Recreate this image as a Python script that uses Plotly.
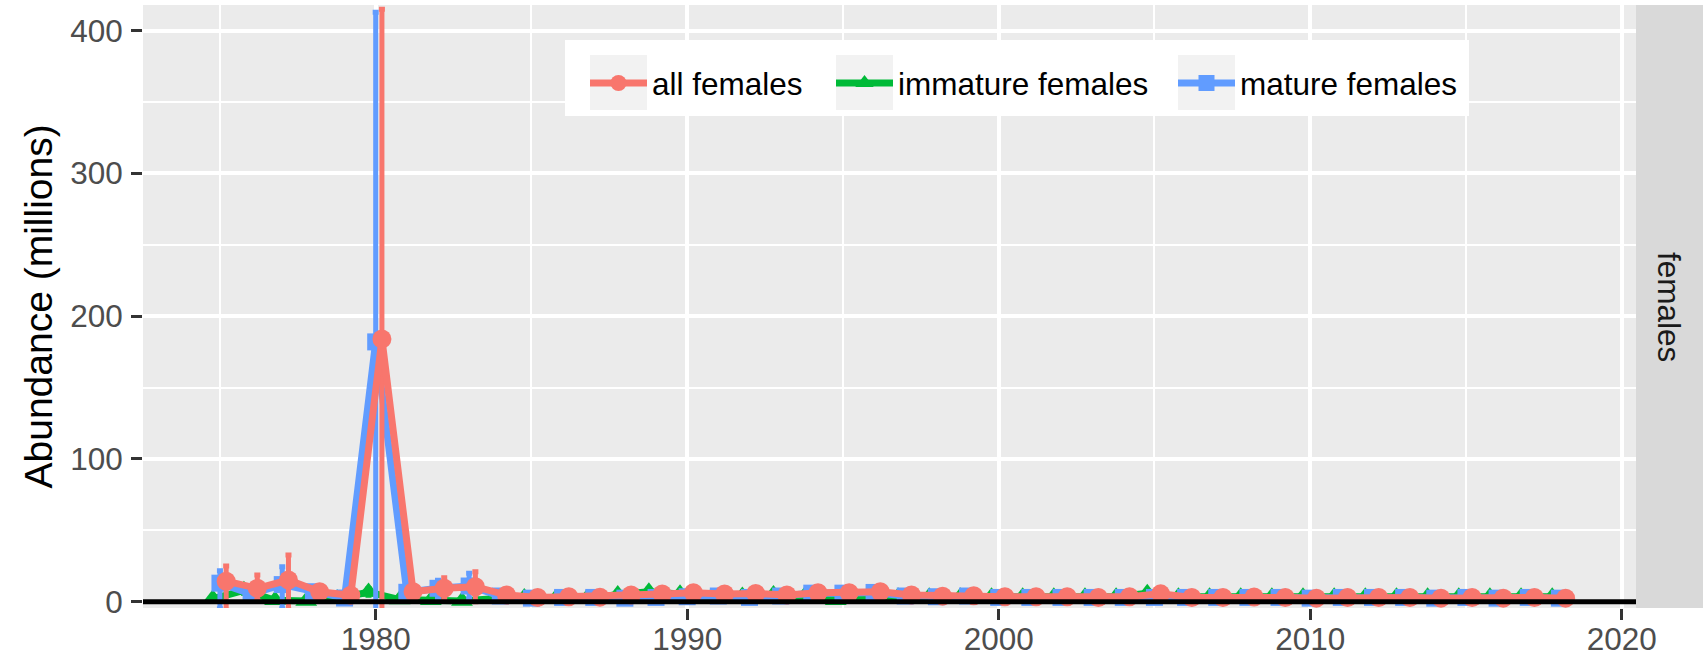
import plotly.graph_objects as go

# Survey years
years = list(range(1975, 2019))

# Abundance estimates (millions) and confidence limits
all_females = [14.4, 9.4, 15.2, 7.0, 4.5, 184.0, 7.0, 9.4, 10.5, 4.7,
               3.0, 3.5, 3.2, 4.7, 5.4, 6.3, 5.4, 5.8, 4.7, 6.3,
               6.3, 7.0, 4.7, 3.9, 4.2, 3.5, 3.5, 3.5, 3.0, 3.5,
               5.5, 3.0, 3.0, 3.3, 3.0, 2.5, 3.0, 3.0, 3.0, 2.5,
               3.0, 2.5, 3.0, 2.5]
all_upper = [25.0, 18.7, 32.7, 9.0, 6.0, 415.0, 9.0, 16.8, 21.0, 6.0,
             4.5, 5.0, 4.5, 6.0, 7.0, 8.0, 7.0, 7.5, 6.0, 8.0,
             8.0, 9.0, 6.0, 5.0, 5.5, 4.5, 4.5, 4.5, 4.0, 4.5,
             7.0, 4.0, 4.0, 4.5, 4.0, 3.5, 4.0, 4.0, 4.0, 3.5,
             4.0, 3.5, 4.0, 3.5]
all_lower = [-6.0, 1.0, -6.0, 5.0, 3.0, -47.0, 5.0, 2.0, 0.0, 3.5,
             2.0, 2.5, 2.0, 3.5, 4.0, 4.5, 4.0, 4.0, 3.5, 4.5,
             4.5, 5.0, 3.5, 3.0, 3.0, 2.5, 2.5, 2.5, 2.0, 2.5,
             4.0, 2.0, 2.0, 2.5, 2.0, 1.5, 2.0, 2.0, 2.0, 1.5,
             2.0, 1.5, 2.0, 1.5]

immature = [2.0, 8.0, 1.0, 0.5, 2.0, 6.8, 1.5, 1.0, 0.5, 2.0,
            3.0, 2.0, 2.0, 5.0, 7.0, 5.5, 3.0, 4.0, 5.0, 4.0,
            1.0, 2.0, 3.5, 3.5, 3.5, 3.5, 3.5, 3.5, 3.5, 3.5,
            6.0, 3.5, 3.5, 3.5, 3.5, 3.5, 3.5, 3.5, 3.5, 3.5,
            3.5, 3.5, 3.5, 3.5]
imm_upper = [3.0, 10.0, 2.0, 1.0, 3.0, 9.0, 2.5, 2.0, 1.0, 3.0,
             4.0, 3.0, 3.0, 6.5, 9.0, 7.0, 4.0, 5.0, 6.5, 5.0,
             2.0, 3.0, 4.5, 4.5, 4.5, 4.5, 4.5, 4.5, 4.5, 4.5,
             7.5, 4.5, 4.5, 4.5, 4.5, 4.5, 4.5, 4.5, 4.5, 4.5,
             4.5, 4.5, 4.5, 4.5]
imm_lower = [1.0, 6.0, 0.0, 0.0, 1.0, 4.5, 0.5, 0.0, 0.0, 1.0,
             2.0, 1.0, 1.0, 3.5, 5.0, 4.0, 2.0, 3.0, 3.5, 3.0,
             0.0, 1.0, 2.5, 2.5, 2.5, 2.5, 2.5, 2.5, 2.5, 2.5,
             4.5, 2.5, 2.5, 2.5, 2.5, 2.5, 2.5, 2.5, 2.5, 2.5,
             2.5, 2.5, 2.5, 2.5]

mature = [13.0, 5.4, 12.0, 7.0, 2.6, 182.0, 6.6, 9.4, 11.0, 4.0,
          2.5, 3.0, 3.0, 2.5, 3.0, 3.5, 4.0, 3.0, 4.0, 6.0,
          6.0, 6.5, 4.0, 3.5, 4.0, 3.0, 3.0, 3.0, 3.0, 3.0,
          3.0, 3.0, 3.0, 3.0, 3.0, 2.5, 3.0, 3.0, 3.0, 2.5,
          3.0, 2.5, 3.0, 2.5]
mat_upper = [21.7, 7.5, 24.5, 8.5, 3.5, 413.0, 8.0, 15.0, 20.0, 5.0,
             3.5, 4.0, 4.0, 3.5, 4.0, 4.5, 5.0, 4.0, 5.0, 7.5,
             7.5, 8.0, 5.0, 4.5, 5.0, 4.0, 4.0, 4.0, 4.0, 4.0,
             4.0, 4.0, 4.0, 4.0, 4.0, 3.5, 4.0, 4.0, 4.0, 3.5,
             4.0, 3.5, 4.0, 3.5]
mat_lower = [-5.0, 3.0, -5.0, 5.5, 1.5, -49.0, 5.0, 3.0, 2.0, 3.0,
             1.5, 2.0, 2.0, 1.5, 2.0, 2.5, 3.0, 2.0, 3.0, 4.5,
             4.5, 5.0, 3.0, 2.5, 3.0, 2.0, 2.0, 2.0, 2.0, 2.0,
             2.0, 2.0, 2.0, 2.0, 2.0, 1.5, 2.0, 2.0, 2.0, 1.5,
             2.0, 1.5, 2.0, 1.5]

x_ticks = [1980, 1990, 2000, 2010, 2020]
y_ticks = [0, 100, 200, 300, 400]

RED, GREEN, BLUE = "#F8766D", "#00BA38", "#619CFF"
FONT = "Liberation Sans"

W, H = 1703, 662
L, R, T, B = 143, 67, 5, 54
pw, ph = W - L - R, H - T - B


def px_x(p):
    return (p - L) / pw


def px_y(p):
    return (H - B - p) / ph


KEY_W = 57
LEG_MID = 83          # vertical centre of the legend entries (px from top)
BOX_TOP, BOX_BOTTOM = 40, 116
# left edge (px) of each legend entry
legend_left = {"legend": 585, "legend2": 831, "legend3": 1173}

# (name, values, upper, lower, colour, symbol, marker size, dodge offset, legend id)
series = [
    ("immature females", immature, imm_upper, imm_lower, GREEN, "triangle-up", 19, -0.23, "legend2"),
    ("mature females", mature, mat_upper, mat_lower, BLUE, "square", 17, 0.0, "legend3"),
    ("all females", all_females, all_upper, all_lower, RED, "circle", 19, 0.2, "legend"),
]

fig = go.Figure()
for name, vals, up, lo, col, sym, msize, off, leg in series:
    fig.add_trace(go.Scatter(
        x=[yr + off for yr in years],
        y=vals,
        name=name,
        mode="lines+markers",
        line=dict(color=col, width=7),
        marker=dict(color=col, symbol=sym, size=msize),
        error_y=dict(
            type="data", symmetric=False,
            array=[u - v for u, v in zip(up, vals)],
            arrayminus=[v - l for v, l in zip(vals, lo)],
            color=col, thickness=5, width=3,
        ),
        legend=leg,
        cliponaxis=True,
    ))

shapes = [
    # zero reference line
    dict(type="line", xref="paper", yref="y", x0=0, x1=1, y0=0, y1=0,
         line=dict(color="black", width=5), layer="above"),
    # facet strip
    dict(type="rect", xref="paper", yref="paper", x0=1, x1=1 + R / pw, y0=0, y1=1,
         fillcolor="#D9D9D9", line=dict(width=0), layer="below"),
    # legend box
    dict(type="rect", xref="paper", yref="paper",
         x0=px_x(565), x1=px_x(1469), y0=px_y(BOX_BOTTOM), y1=px_y(BOX_TOP),
         fillcolor="white", line=dict(width=0), layer="above"),
]
# legend key backgrounds
for leg, left in legend_left.items():
    shapes.append(dict(type="rect", xref="paper", yref="paper",
                       x0=px_x(left + 5), x1=px_x(left + 5 + KEY_W),
                       y0=px_y(110), y1=px_y(55),
                       fillcolor="#F2F2F2", line=dict(width=0), layer="above"))

annotations = [
    dict(text="females", xref="paper", yref="paper", x=1 + R / pw / 2, y=0.5,
         showarrow=False, textangle=90, font=dict(family=FONT, size=31.5, color="#1A1A1A"),
         xanchor="center", yanchor="middle"),
    dict(text="Abundance (millions)", xref="paper", yref="paper", x=px_x(38), y=0.5,
         showarrow=False, textangle=-90, font=dict(family=FONT, size=39, color="black"),
         xanchor="center", yanchor="middle"),
]

legend_style = dict(
    orientation="h", xanchor="left", yanchor="middle", y=px_y(LEG_MID),
    bgcolor="rgba(0,0,0,0)", borderwidth=0,
    font=dict(family=FONT, size=31.5, color="black"), itemwidth=KEY_W,
)

fig.update_layout(
    width=W, height=H,
    margin=dict(l=L, r=R, t=T, b=B, pad=0, autoexpand=False),
    paper_bgcolor="white",
    plot_bgcolor="#EBEBEB",
    font=dict(family=FONT, color="#4D4D4D"),
    shapes=shapes,
    annotations=annotations,
    legend=dict(x=px_x(legend_left["legend"]), **legend_style),
    legend2=dict(x=px_x(legend_left["legend2"]), **legend_style),
    legend3=dict(x=px_x(legend_left["legend3"]), **legend_style),
    xaxis=dict(
        range=[1972.53, 2020.46], tickvals=x_ticks, ticks="outside", ticklen=11,
        tickwidth=3, tickcolor="#333333", tickfont=dict(family=FONT, size=31.5, color="#4D4D4D"),
        ticklabelstandoff=-8,
        showgrid=True, gridcolor="white", gridwidth=4.3, zeroline=False, showline=False,
        automargin=False,
        minor=dict(tickvals=[1975, 1985, 1995, 2005, 2015], showgrid=True,
                   gridcolor="white", gridwidth=2.4, ticks=""),
    ),
    yaxis=dict(
        range=[-4.4, 418], tickvals=y_ticks, ticks="outside", ticklen=11,
        tickwidth=3, tickcolor="#333333", tickfont=dict(family=FONT, size=31.5, color="#4D4D4D"),
        ticklabelstandoff=2,
        showgrid=True, gridcolor="white", gridwidth=4.3, zeroline=False, showline=False,
        automargin=False,
        minor=dict(tickvals=[50, 150, 250, 350], showgrid=True,
                   gridcolor="white", gridwidth=2.4, ticks=""),
    ),
    showlegend=True,
)

fig.write_html("out.html")
